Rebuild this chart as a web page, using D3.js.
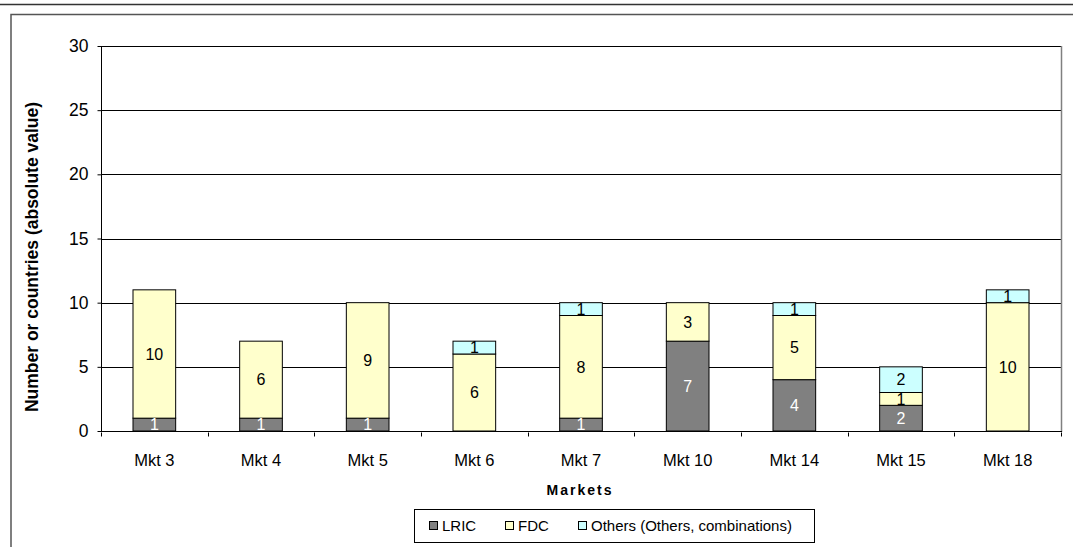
<!DOCTYPE html>
<html><head><meta charset="utf-8">
<script src="https://cdn.jsdelivr.net/npm/d3@7"></script>
<style>
html,body{margin:0;padding:0;background:#fff;}
svg{display:block;font-family:"Liberation Sans",Arial,sans-serif;}
</style></head>
<body>
<svg id="chart" width="1073" height="547"></svg>
<script>
const categories = ["Mkt 3","Mkt 4","Mkt 5","Mkt 6","Mkt 7","Mkt 10","Mkt 14","Mkt 15","Mkt 18"];
const lricValues = [1,1,1,0,1,7,4,2,0];
const fdcValues = [10,6,9,6,8,3,5,1,10];
const othersValues = [0,0,0,1,1,0,1,2,1];
const seriesNames = ["LRIC","FDC","Others (Others, combinations)"];
const seriesColors = ["#808080","#ffffcc","#ccffff"];
const labelColors = ["#ffffff","#000000","#000000"];
const yTicks = [0,5,10,15,20,25,30];

const svg = d3.select("#chart");
const W = 1073, H = 547;
const m = {left:101, right:1061, top:46, bottom:431};

// outer frame lines
svg.append("line").attr("x1",0).attr("x2",W).attr("y1",4.5).attr("y2",4.5).attr("stroke","#333").attr("stroke-width",1.5);
svg.append("path").attr("d",`M11,${H}V14.5H${W}`).attr("fill","none").attr("stroke","#555").attr("stroke-width",1.5);

const rows = categories.map((c,i)=>({cat:c, "LRIC":lricValues[i], "FDC":fdcValues[i], "Others (Others, combinations)":othersValues[i]}));
const stack = d3.stack().keys(seriesNames)(rows);

const x = d3.scaleBand().domain(categories).range([m.left,m.right]).paddingInner(0).paddingOuter(0);
const y = d3.scaleLinear().domain([0,30]).range([m.bottom,m.top]);

// gridlines
svg.append("g").selectAll("line").data(yTicks.filter(t=>t>0)).join("line")
  .attr("x1",m.left).attr("x2",m.right)
  .attr("y1",d=>Math.round(y(d))+0.5).attr("y2",d=>Math.round(y(d))+0.5)
  .attr("stroke","#000").attr("stroke-width",1);
// right border
svg.append("line").attr("x1",m.right+0.5).attr("x2",m.right+0.5).attr("y1",m.top).attr("y2",m.bottom+1)
  .attr("stroke","#808080").attr("stroke-width",1.5);

// bars
const bw = x.bandwidth()*0.4;
stack.forEach((s,si)=>{
  const g = svg.append("g");
  g.selectAll("rect").data(s.filter(d=>d[1]-d[0]>0)).join("rect")
    .attr("x",d=>x(d.data.cat)+(x.bandwidth()-bw)/2)
    .attr("y",d=>y(d[1]))
    .attr("width",bw)
    .attr("height",d=>y(d[0])-y(d[1]))
    .attr("fill",seriesColors[si])
    .attr("stroke","#000").attr("stroke-width",1);
});
stack.forEach((s,si)=>{
  svg.append("g").selectAll("text").data(s.filter(d=>d[1]-d[0]>0)).join("text")
    .attr("x",d=>x(d.data.cat)+x.bandwidth()/2)
    .attr("y",d=>(y(d[0])+y(d[1]))/2)
    .attr("dy","0.36em")
    .attr("text-anchor","middle")
    .attr("font-size",16)
    .attr("fill",labelColors[si])
    .text(d=>d[1]-d[0]);
});

// y axis
const yAxis = d3.axisLeft(y).tickValues(yTicks).tickSize(4).tickPadding(9);
const ya = svg.append("g").attr("transform",`translate(${m.left+0.5},0)`).call(yAxis);
ya.select(".domain").attr("stroke","#000").attr("d",`M0,${m.top}V${m.bottom+1}`);
ya.selectAll("text").attr("font-size",17.5).attr("font-family","Liberation Sans, Arial").attr("fill","#000");
ya.selectAll(".tick line").attr("stroke","#000");

// x axis
const xa = svg.append("g").attr("transform",`translate(0,${m.bottom+0.5})`);
xa.append("line").attr("x1",m.left).attr("x2",m.right+1).attr("y1",0).attr("y2",0).attr("stroke","#000");
const bounds = categories.map(c=>x(c)).concat([m.right]);
xa.selectAll("line.tk").data(bounds).join("line").attr("class","tk")
  .attr("x1",d=>Math.round(d)+0.5).attr("x2",d=>Math.round(d)+0.5).attr("y1",1).attr("y2",5)
  .attr("stroke","#000");
xa.selectAll("text").data(categories).join("text")
  .attr("x",d=>x(d)+x.bandwidth()/2).attr("y",34)
  .attr("text-anchor","middle").attr("font-size",16.5).attr("fill","#000")
  .text(d=>d);

// axis titles
svg.append("text").attr("transform","translate(38,257) rotate(-90)")
  .attr("text-anchor","middle").attr("font-size",17.5).attr("font-weight","bold")
  .text("Number or countries (absolute value)");
svg.append("text").attr("x",580).attr("y",495).attr("text-anchor","middle")
  .attr("font-size",14).attr("font-weight","bold").attr("letter-spacing","2px")
  .text("Markets");

// legend
const lg = svg.append("g");
lg.append("rect").attr("x",414.5).attr("y",509.5).attr("width",400).attr("height",33)
  .attr("fill","#fff").attr("stroke","#000").attr("stroke-width",1);
const legX = [429,505,578];
seriesNames.forEach((n,i)=>{
  lg.append("rect").attr("x",legX[i]+0.5).attr("y",521.5).attr("width",8).attr("height",8)
    .attr("fill",seriesColors[i]).attr("stroke","#000");
  lg.append("text").attr("x",legX[i]+13).attr("y",531).attr("font-size",15).text(n);
});
</script>
</body></html>
